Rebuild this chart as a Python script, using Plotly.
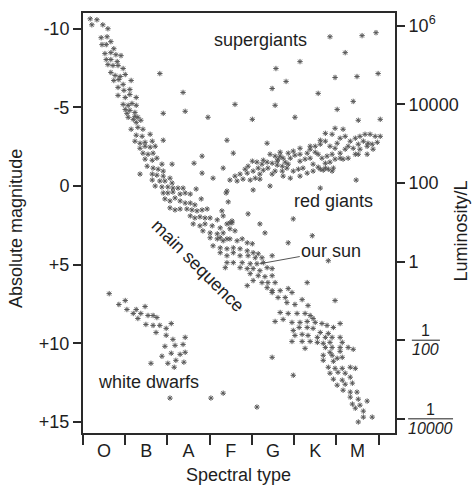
import plotly.graph_objects as go

# ---------------- data ----------------
spectral_types = ["O", "B", "A", "F", "G", "K", "M"]
mag_ticks = [-10, -5, 0, 5, 10, 15]
mag_tick_text = ["-10", "-5", "0", "+5", "+10", "+15"]
lum_exponents = [6, 4, 2, 0, -2, -4]
lum_labels = ["10<sup>6</sup>", "10000", "100", "1", "", ""]
lum_fractions = [(-2, "100"), (-4, "10000")]
sun_abs_mag = 4.8

# (spectral index, absolute magnitude)
main_sequence = [
    (-0.33, -10.63), (-0.17, -10.57), (-0.29, -10.25), (-0.03, -10.25), (0.09, -10.0), (-0.07, -9.43),
    (0.07, -9.49), (0.16, -9.18), (-0.05, -8.99), (0.05, -8.99), (0.23, -8.73), (0.02, -8.42),
    (0.16, -8.48), (0.28, -8.35), (0.40, -8.29), (0.05, -8.04), (0.16, -8.04), (0.31, -7.91),
    (0.09, -7.72), (0.21, -7.66), (0.33, -7.66), (0.45, -7.47), (0.16, -7.22), (0.26, -7.03),
    (0.38, -6.96), (0.50, -7.09), (0.23, -6.71), (0.35, -6.77), (0.45, -6.46), (0.64, -6.71),
    (0.33, -6.27), (0.47, -6.08), (0.61, -6.14), (0.33, -5.76), (0.50, -5.63), (0.61, -5.82),
    (0.76, -5.63), (0.45, -5.19), (0.57, -5.13), (0.66, -5.25), (0.76, -5.13), (0.50, -4.87),
    (0.61, -4.81), (0.73, -4.68), (0.57, -4.37), (0.69, -4.24), (0.80, -4.37), (0.87, -4.18),
    (0.64, -3.61), (0.80, -3.73), (0.92, -3.61), (0.76, -4.05), (0.54, -4.62), (0.73, -4.43),
    (0.76, -3.23), (0.90, -3.16), (1.09, -3.29), (0.73, -2.85), (0.85, -2.72), (0.97, -2.78),
    (1.14, -2.85), (1.40, -2.91), (0.85, -2.40), (0.97, -2.53), (1.09, -2.47), (1.21, -2.53),
    (0.92, -2.09), (1.04, -2.02), (1.16, -2.09), (0.97, -1.71), (1.14, -1.64), (1.25, -1.77),
    (1.37, -1.39), (1.61, -1.39), (1.02, -1.26), (1.16, -1.14), (1.28, -1.07), (1.40, -0.95),
    (0.85, -0.76), (1.14, -0.76), (1.25, -0.69), (1.40, -0.63), (1.56, -0.50), (1.14, -0.38),
    (1.32, -0.32), (1.44, -0.32), (1.61, -0.19), (1.21, 0.00), (1.37, 0.06), (1.51, 0.06),
    (1.63, 0.13), (1.75, 0.13), (1.87, 0.13), (1.40, 0.44), (1.51, 0.44), (1.63, 0.38),
    (1.80, 0.51), (1.92, 0.44), (2.04, 0.51), (1.44, 0.82), (1.56, 0.95), (1.68, 0.76),
    (1.80, 0.95), (1.92, 1.08), (2.04, 1.08), (2.15, 1.20), (1.56, 1.39), (1.68, 1.52),
    (1.80, 1.46), (1.96, 1.46), (2.08, 1.52), (2.20, 1.58), (2.32, 1.52), (2.44, 1.46),
    (2.04, 1.90), (2.15, 2.03), (2.27, 1.96), (2.39, 2.03), (2.51, 2.03), (2.68, 2.15),
    (2.11, 2.41), (2.27, 2.53), (2.39, 2.41), (2.56, 2.53), (2.75, 2.66), (2.98, 2.34),
    (2.34, 2.85), (2.51, 2.98), (2.68, 3.04), (2.82, 2.98), (2.98, 2.72), (3.10, 2.85),
    (2.75, 3.29), (2.91, 3.36), (2.82, 1.90), (2.91, 2.41), (3.03, 2.34),
    (2.51, 3.29), (2.68, 3.36), (2.82, 3.48), (2.98, 3.36), (3.15, 3.48), (3.27, 3.36),
    (3.39, 3.61), (3.51, 3.67), (2.58, 3.80), (2.75, 3.93), (2.91, 3.99), (3.06, 3.93),
    (3.22, 3.99), (3.39, 4.12), (3.53, 4.24), (3.65, 4.31), (2.75, 4.24), (2.91, 4.43),
    (3.06, 4.24), (3.22, 4.43), (3.41, 4.43), (3.58, 4.56), (3.74, 4.56), (2.91, 4.87),
    (3.06, 4.87), (3.27, 4.87), (3.46, 4.94), (3.62, 4.94), (3.77, 4.87), (3.22, 5.19),
    (3.39, 5.25), (3.53, 5.25), (3.69, 5.38), (3.86, 5.19), (3.98, 5.25), (2.87, 5.19),
    (3.46, 5.57), (3.65, 5.70), (3.81, 5.76), (3.98, 5.70), (3.53, 6.01), (3.74, 6.14),
    (3.88, 6.14), (4.05, 6.14), (3.39, 6.33), (3.86, 6.46), (3.98, 6.65), (4.17, 6.65),
    (4.36, 6.52),
    (3.98, 6.77), (4.12, 7.09), (4.29, 7.09), (4.45, 6.77), (4.33, 7.41), (4.52, 7.53),
    (4.69, 7.22), (4.83, 7.60), (4.17, 8.04), (4.36, 8.10), (4.57, 8.10), (4.76, 8.10),
    (4.88, 8.23), (4.95, 8.42), (4.05, 8.61), (4.24, 8.48), (4.45, 8.67), (4.64, 8.67),
    (4.81, 8.61), (5.00, 8.67), (5.16, 8.74), (5.28, 8.86), (5.43, 8.99), (4.48, 9.18),
    (4.62, 8.99), (4.81, 8.99), (4.95, 9.05), (5.12, 9.31), (5.31, 9.37), (4.52, 9.50),
    (4.69, 9.43), (4.83, 9.50), (5.05, 9.62), (5.24, 9.62), (5.40, 9.62), (5.59, 9.62),
    (4.45, 9.88), (4.69, 9.88), (4.88, 9.88), (5.05, 9.94), (5.19, 10.00), (5.35, 9.94),
    (5.64, 9.94), (4.76, 10.32), (5.24, 10.26), (5.40, 10.26), (5.59, 10.26), (5.78, 10.26),
    (5.90, 10.38), (5.35, 10.57), (5.59, 10.51), (5.19, 10.76), (5.40, 10.76), (5.52, 10.95),
    (5.64, 10.89), (5.19, 11.08), (5.43, 11.14), (5.31, 11.52), (5.47, 11.59), (5.64, 11.59),
    (5.83, 11.52), (5.95, 11.59), (5.35, 11.90), (5.54, 11.84), (5.71, 11.90), (5.43, 12.28),
    (5.64, 12.34), (5.83, 12.15), (5.52, 12.66), (5.71, 12.60), (5.88, 12.53), (5.66, 12.98),
    (5.83, 13.10), (5.99, 13.10), (5.83, 13.42), (6.02, 13.55), (6.23, 13.67), (5.88, 13.86),
    (6.06, 13.93), (5.95, 14.12), (6.14, 14.31), (6.14, 14.69), (6.35, 14.69), (6.02, 15.00),
]

red_giants = [
    (2.98, -0.38), (3.15, -0.32), (3.29, -0.44), (3.46, -0.38), (3.58, -0.50), (3.69, -0.44),
    (3.22, -0.76), (3.39, -0.82), (3.53, -0.95), (3.65, -1.14), (3.77, -1.01), (3.88, -1.14),
    (3.98, -0.76), (3.74, -1.39), (3.86, -1.52), (3.98, -1.45), (4.10, -1.33), (4.22, -1.26),
    (4.12, -1.71), (4.24, -1.77), (3.93, -2.02), (4.05, -1.90), (4.17, -1.90), (4.29, -1.52),
    (4.36, -1.39), (4.41, -1.77), (4.52, -1.96), (4.64, -2.02), (4.33, -1.14), (4.48, -0.95),
    (4.60, -1.07), (4.71, -1.14), (4.64, -1.58), (4.76, -1.71), (4.88, -1.77), (4.81, -2.09),
    (4.88, -2.34), (5.00, -2.15), (5.07, -2.02), (4.95, -1.39), (5.07, -1.20), (5.19, -1.01),
    (5.31, -1.07), (5.43, -1.14), (5.24, -1.45), (5.35, -1.52), (5.47, -1.71), (5.16, -1.77),
    (5.28, -1.90), (5.40, -2.02), (5.12, -2.66), (5.24, -2.85), (5.35, -2.53), (5.47, -2.40),
    (5.52, -2.72), (5.59, -2.09), (5.71, -2.34), (5.59, -3.04), (5.71, -3.16), (5.83, -2.85),
    (5.95, -3.04), (5.78, -2.53), (5.90, -2.40), (6.02, -2.66), (6.06, -3.16), (6.18, -3.29),
    (6.30, -3.29), (6.14, -2.85), (6.25, -2.72), (6.06, -2.34), (5.59, -1.77), (5.66, -1.71),
    (5.78, -1.77), (5.95, -2.02), (6.02, -2.02), (6.23, -2.53), (6.35, -2.66), (6.47, -2.78),
    (6.37, -2.34), (6.42, -3.16), (6.54, -3.16), (6.23, -2.02), (5.47, -3.67), (5.66, -3.61),
    (5.40, -3.29), (5.24, -3.35), (5.12, -2.91), (5.00, -2.53), (4.88, -2.53), (4.64, -2.40),
    (4.48, -2.22), (4.36, -2.09), (4.17, -2.15), (4.10, -1.58), (3.41, -1.26), (3.62, -1.52),
    (3.51, -1.58), (3.77, -1.64), (3.34, -1.07), (3.10, -0.63), (3.69, -0.76), (4.05, -0.95),
    (4.22, -0.95), (4.41, -0.50), (4.24, -0.63), (4.64, -0.63), (4.81, -0.82), (4.95, -0.95),
    (5.12, -1.07), (5.24, -1.14), (5.40, -0.95),
]

scattered = [
    (5.35, -9.49), (6.11, -9.56), (6.44, -9.75), (5.71, -8.48), (4.64, -7.91), (4.07, -7.47),
    (5.47, -6.90), (5.99, -6.96), (6.49, -7.15), (4.31, -6.65), (3.98, -6.20),
    (1.32, -7.15), (1.87, -5.95), (1.40, -4.62), (1.92, -4.75), (2.46, -4.37),
    (5.07, -5.89), (3.10, -5.19), (4.05, -5.13), (5.52, -4.87), (5.90, -5.38), (3.51, -4.24),
    (4.52, -4.37), (6.02, -4.18), (6.54, -4.24), (3.86, -2.72), (2.91, -2.91), (3.06, -2.09),
    (2.32, -1.90), (2.13, -1.45), (2.32, -0.82), (2.82, -1.14), (2.58, -0.50),
    (2.18, 0.19), (2.30, 0.82), (2.89, 0.44), (2.94, 1.01), (2.79, 1.58), (3.03, 2.22),
    (3.41, 1.77), (2.91, 0.32), (3.53, 0.25), (3.93, 0.00), (5.12, 0.13), (5.97, -0.38),
    (3.69, 2.41), (4.48, 2.09), (3.81, 2.98), (4.36, 3.61), (4.93, 3.16), (3.98, 4.43),
    (4.81, 6.14), (5.31, 4.75), (5.47, 7.28), (5.59, 8.74), (3.98, 10.89), (4.48, 12.03),
    (1.56, 13.48), (2.53, 13.48), (2.82, 13.17), (3.62, 14.05),
]

white_dwarfs = [
    (0.12, 6.84), (0.35, 7.53), (0.50, 7.28), (0.54, 7.85), (0.69, 8.10), (0.76, 7.85),
    (0.80, 8.42), (0.87, 8.10), (0.97, 7.66), (1.04, 8.23), (1.16, 8.23), (1.25, 8.36),
    (0.99, 8.80), (1.16, 8.86), (1.32, 8.86), (1.59, 8.74), (1.23, 9.31), (1.47, 9.05),
    (1.47, 9.49), (1.63, 9.75), (1.92, 9.62), (1.44, 10.19), (1.68, 10.13), (1.87, 10.07),
    (1.37, 10.82), (1.59, 10.63), (1.80, 10.70), (1.92, 10.57), (1.51, 11.27), (1.70, 11.08),
    (1.89, 11.20), (1.11, 11.27), (1.66, 11.52),
]

sun_point = (3.69, 4.94)

# ---------------- figure ----------------
FONT = "Liberation Sans, Arial, sans-serif"
TXT = "#1e1e1e"
LINE = "#2a2a2a"
MK = "#585858"
marker = dict(symbol="asterisk-open", size=4.5, color=MK, line=dict(width=1.0, color=MK))

fig = go.Figure()
for pts in (main_sequence, red_giants, scattered, white_dwarfs):
    fig.add_trace(go.Scatter(x=[p[0] for p in pts], y=[p[1] for p in pts], mode="markers",
                             marker=marker, showlegend=False, hoverinfo="skip"))
fig.add_trace(go.Scatter(x=[None], y=[None], yaxis="y2", showlegend=False, hoverinfo="skip"))

y_range = [15.7, -11.0]
fig.update_layout(
    width=472, height=488,
    margin=dict(l=83, r=77, t=11, b=55),
    paper_bgcolor="white", plot_bgcolor="white",
    font=dict(family=FONT, size=18, color=TXT),
    xaxis=dict(range=[-0.5, 6.89], tickmode="array", tickvals=list(range(len(spectral_types))),
               ticktext=spectral_types, ticks="", showgrid=False, zeroline=False,
               showline=True, linecolor=LINE, linewidth=2, mirror=True,
               ticklabelstandoff=0, tickfont=dict(size=18),
               minor=dict(ticks="outside", tick0=0.5, dtick=1, ticklen=10, tickwidth=1.5,
                          tickcolor=LINE, showgrid=False)),
    yaxis=dict(range=y_range, tickmode="array", tickvals=mag_ticks, ticktext=mag_tick_text,
               ticks="outside", ticklen=8, tickwidth=1.5, tickcolor=LINE,
               showgrid=False, zeroline=False, showline=True, linecolor=LINE, linewidth=2,
               tickfont=dict(size=18)),
    yaxis2=dict(range=y_range, overlaying="y", side="right",
                tickmode="array", tickvals=[sun_abs_mag - 2.5 * e for e in lum_exponents],
                ticktext=lum_labels, ticks="outside", ticklen=8, tickwidth=1.5, tickcolor=LINE,
                showgrid=False, zeroline=False, showline=True, linecolor=LINE, linewidth=2,
                tickfont=dict(size=18)),
)

annotations = [
    dict(text="supergiants", x=3.70, y=-9.30, xref="x", yref="y", showarrow=False),
    dict(text="red giants", x=5.43, y=0.95, xref="x", yref="y", showarrow=False),
    dict(text="main sequence", x=2.23, y=5.07, xref="x", yref="y", showarrow=False, textangle=45),
    dict(text="white dwarfs", x=1.04, y=12.47, xref="x", yref="y", showarrow=False),
    dict(text="our sun", x=sun_point[0], y=sun_point[1], xref="x", yref="y",
         ax=5.38, ay=4.12, axref="x", ayref="y", showarrow=True, arrowhead=0,
         arrowwidth=1, arrowcolor="#555", standoff=0),
    dict(text="Absolute magnitude", x=-0.215, y=0.488, xref="paper", yref="paper",
         xanchor="center", yanchor="middle", textangle=-90, showarrow=False),
    dict(text="Luminosity/L", x=1.21, y=0.481, xref="paper", yref="paper",
         xanchor="center", yanchor="middle", textangle=-90, showarrow=False),
    dict(text="Spectral type", x=0.497, y=-0.1, xref="paper", yref="paper",
         xanchor="center", yanchor="middle", showarrow=False),
]
shapes = []
frac_spans = {"100": (1.054, 1.144), "10000": (1.042, 1.186)}
for exp, den in lum_fractions:
    m = sun_abs_mag - 2.5 * exp
    x0, x1 = frac_spans[den]
    xc = (x0 + x1) / 2
    shapes.append(dict(type="line", xref="paper", yref="y", x0=x0, x1=x1, y0=m, y1=m,
                       line=dict(color=TXT, width=1)))
    annotations.append(dict(text="1", x=xc, y=m, xref="paper", yref="y", xanchor="center",
                            yanchor="bottom", showarrow=False, font=dict(size=16), yshift=-1))
    annotations.append(dict(text="<i>" + den + "</i>", x=xc, y=m, xref="paper", yref="y",
                            xanchor="center", yanchor="top", showarrow=False,
                            font=dict(size=16), yshift=1))
fig.update_layout(annotations=annotations, shapes=shapes)

fig.write_html("out.html")
